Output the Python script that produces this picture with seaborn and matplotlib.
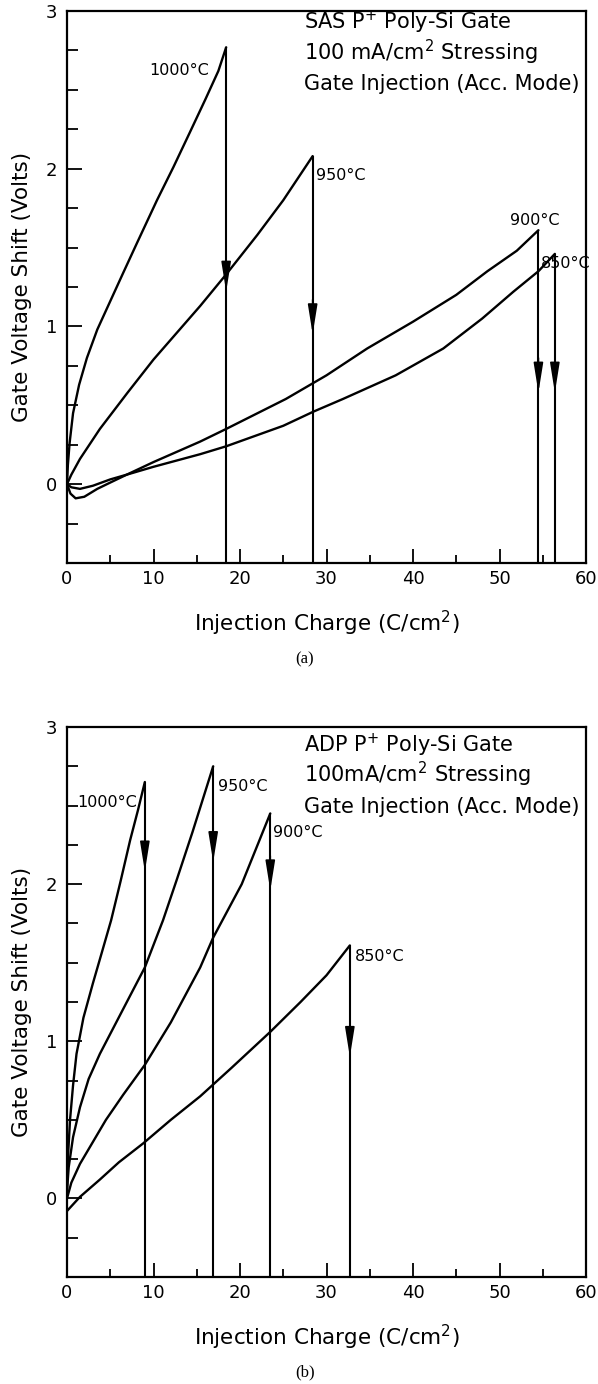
import matplotlib
matplotlib.use("Agg")
import matplotlib.pyplot as plt
import seaborn as sns
import pandas as pd
from matplotlib.ticker import MultipleLocator

# ---------------- data: panel (a) SAS ----------------
temps = ["1000°C", "950°C", "900°C", "850°C"]

a_q1000 = [0, 0.1, 0.3, 0.7, 1.4, 2.3, 3.5, 5.0, 6.5, 8.1, 10.4, 12.3, 14.2, 16.0, 17.5, 18.4]
a_v1000 = [0, 0.12, 0.26, 0.45, 0.63, 0.80, 0.98, 1.16, 1.34, 1.53, 1.80, 2.01, 2.23, 2.44, 2.62, 2.77]
a_q950 = [0, 0.5, 1.5, 3.8, 7.0, 10.0, 15.4, 18.4, 22.0, 25.0, 28.4]
a_v950 = [0, 0.06, 0.16, 0.35, 0.58, 0.79, 1.13, 1.33, 1.58, 1.80, 2.08]
a_q900 = [0, 0.4, 1.0, 2.0, 3.5, 5.0, 6.9, 10.0, 15.4, 18.4, 25.3, 30.0, 34.7, 40.0, 45.0, 48.6, 52.0, 54.5]
a_v900 = [0, -0.06, -0.09, -0.08, -0.03, 0.01, 0.06, 0.14, 0.27, 0.35, 0.54, 0.69, 0.86, 1.03, 1.20, 1.35, 1.48, 1.61]
a_q850 = [0, 0.5, 1.5, 3.0, 5.0, 6.9, 10.0, 15.4, 18.4, 25.0, 28.5, 31.9, 38.0, 43.5, 48.0, 51.6, 54.5, 56.4]
a_v850 = [0, -0.02, -0.03, -0.01, 0.03, 0.06, 0.11, 0.19, 0.24, 0.37, 0.46, 0.54, 0.69, 0.86, 1.05, 1.22, 1.35, 1.46]
a_arrow_tip = [1.22, 0.95, 0.58, 0.58]
a_label_xy = [(16.4, 2.62, "right"), (28.8, 1.96, "left"), (51.2, 1.67, "left"), (54.8, 1.40, "left")]
a_text = ["SAS P$^{+}$ Poly-Si Gate", "100 mA/cm$^{2}$ Stressing", "Gate Injection (Acc. Mode)"]

# ---------------- data: panel (b) ADP ----------------
b_q1000 = [0, 0.1, 0.35, 0.7, 1.1, 1.9, 3.0, 4.0, 5.1, 6.2, 7.3, 8.2, 9.0]
b_v1000 = [0.05, 0.25, 0.50, 0.72, 0.92, 1.15, 1.37, 1.56, 1.77, 2.02, 2.28, 2.47, 2.65]
b_q950 = [0, 0.2, 0.7, 1.5, 2.5, 3.8, 5.5, 7.2, 9.0, 11.1, 12.7, 14.5, 16.9]
b_v950 = [0.05, 0.20, 0.39, 0.58, 0.76, 0.92, 1.10, 1.28, 1.47, 1.77, 2.03, 2.33, 2.75]
b_q900 = [0, 0.5, 1.5, 3.0, 4.5, 6.5, 9.0, 12.0, 15.4, 16.9, 20.2, 23.5]
b_v900 = [0.0, 0.10, 0.22, 0.36, 0.50, 0.66, 0.85, 1.12, 1.47, 1.66, 2.00, 2.45]
b_q850 = [0, 0.5, 1.5, 3.8, 6.0, 8.8, 12.0, 15.4, 19.0, 23.5, 27.0, 30.0, 32.7]
b_v850 = [-0.08, -0.05, 0.01, 0.12, 0.23, 0.35, 0.50, 0.65, 0.83, 1.06, 1.25, 1.42, 1.61]
b_arrow_tip = [2.08, 2.14, 1.96, 0.90]
b_label_xy = [(8.1, 2.52, "right"), (17.4, 2.62, "left"), (23.8, 2.33, "left"), (33.3, 1.54, "left")]
b_text = ["ADP P$^{+}$ Poly-Si Gate", "100mA/cm$^{2}$ Stressing", "Gate Injection (Acc. Mode)"]

x_ticks = [0, 10, 20, 30, 40, 50, 60]
y_ticks = [0, 1, 2, 3]
x_label = "Injection Charge (C/cm$^{2}$)"
y_label = "Gate Voltage Shift (Volts)"

# ---------------- style ----------------
sns.set_theme(style="white")
plt.rcParams["font.family"] = ["DejaVu Sans"]
plt.rcParams["mathtext.default"] = "regular"
plt.rcParams["text.color"] = "black"
plt.rcParams["axes.labelcolor"] = "black"
plt.rcParams["xtick.color"] = "black"
plt.rcParams["ytick.color"] = "black"

fig = plt.figure(figsize=(5.98, 13.84), dpi=100)
W, H = 598, 1384


def make_df(qs, vs):
    rows = []
    for t, q, v in zip(temps, qs, vs):
        for qi, vi in zip(q, v):
            rows.append({"temp": t, "q": qi, "v": vi})
    return pd.DataFrame(rows)


def draw_panel(ax, qs, vs, tips, labels, text, first_baseline):
    df = make_df(qs, vs)
    sns.lineplot(data=df, x="q", y="v", units="temp", estimator=None, sort=False,
                 color="black", lw=1.7, ax=ax, legend=False)
    for q, v, tip in zip(qs, vs, tips):
        ax.vlines(q[-1], -0.5, v[-1], color="black", lw=1.5)
        ax.annotate("", xy=(q[-1], tip), xytext=(q[-1], tip + 0.22),
                    arrowprops=dict(arrowstyle="-|>,head_length=1.5,head_width=0.24",
                                    color="black", lw=1.2, shrinkA=0, shrinkB=0),
                    annotation_clip=False)
    for t, (lx, ly, ha) in zip(temps, labels):
        ax.text(lx, ly, t, ha=ha, va="center", fontsize=11.5, color="black")
    for i, line in enumerate(text):
        ax.text(0.456, first_baseline - i * 0.0555, line, transform=ax.transAxes,
                ha="left", va="baseline", fontsize=15, color="black")
    ax.set_xlim(0, 60)
    ax.set_ylim(-0.5, 3)
    ax.set_xticks(x_ticks)
    ax.set_yticks(y_ticks)
    ax.xaxis.set_minor_locator(MultipleLocator(5))
    ax.yaxis.set_minor_locator(MultipleLocator(0.25))
    ax.tick_params(axis="both", which="both", direction="in", bottom=True, left=True,
                   top=False, right=False, labelsize=13, width=1.3, colors="black")
    ax.tick_params(axis="y", which="major", length=11, pad=7)
    ax.tick_params(axis="y", which="minor", length=8)
    ax.tick_params(axis="x", which="major", length=10, pad=5)
    ax.tick_params(axis="x", which="minor", length=6)
    for s in ax.spines.values():
        s.set_visible(True)
        s.set_color("black")
        s.set_linewidth(1.6)
    ax.set_xlabel(x_label, fontsize=15.5, color="black")
    ax.set_ylabel(y_label, fontsize=15.5, color="black")
    ax.xaxis.set_label_coords(0.5, -0.083)
    ax.yaxis.set_label_coords(-0.067, 0.5)


left = 67 / W
width = (586 - 67) / W
ax_a = fig.add_axes([left, 1 - 563 / H, width, (563 - 11) / H])
ax_b = fig.add_axes([left, 1 - 1277 / H, width, (1277 - 727) / H])

draw_panel(ax_a, [a_q1000, a_q950, a_q900, a_q850], [a_v1000, a_v950, a_v900, a_v850],
           a_arrow_tip, a_label_xy, a_text, 0.967)
draw_panel(ax_b, [b_q1000, b_q950, b_q900, b_q850], [b_v1000, b_v950, b_v900, b_v850],
           b_arrow_tip, b_label_xy, b_text, 0.955)

fig.text(305 / W, 1 - 659 / H, "(a)", ha="center", va="center", fontsize=12,
         family=["Liberation Serif", "DejaVu Serif"], color="black")
fig.text(305 / W, 1 - 1372 / H, "(b)", ha="center", va="center", fontsize=12,
         family=["Liberation Serif", "DejaVu Serif"], color="black")

fig.savefig("out.png", dpi=100, facecolor="white")
